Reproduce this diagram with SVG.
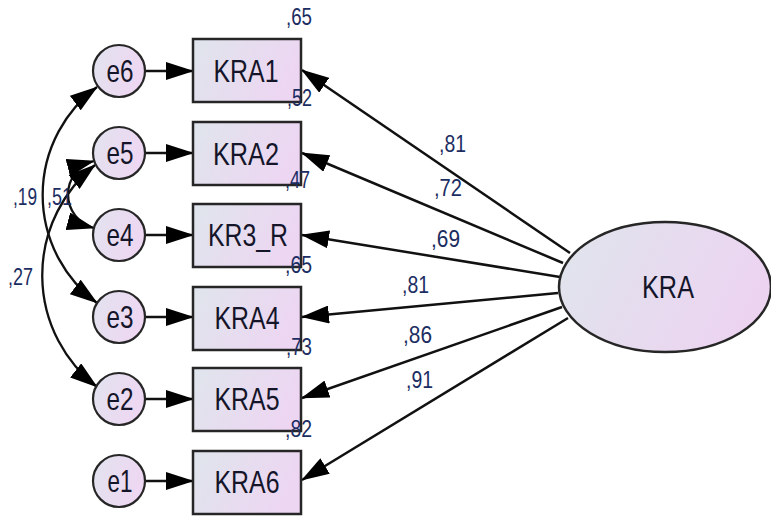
<svg xmlns="http://www.w3.org/2000/svg" width="771" height="517" viewBox="0 0 771 517">
<style>
.box{stroke:#262626;stroke-width:2.5;fill:url(#gb)}
.err{stroke:#262626;stroke-width:2.2;fill:url(#ge)}
.lat{stroke:#262626;stroke-width:2.5;fill:url(#gl)}
.ln{stroke:#111;stroke-width:2.5;fill:none;marker-end:url(#ah)}
.cv{stroke:#111;stroke-width:2.3;fill:none;marker-start:url(#ah);marker-end:url(#ah)}
.lbl{font-family:"Liberation Sans",Arial,sans-serif;font-size:32px;fill:#15152a;text-anchor:middle}
.num{font-family:"Liberation Sans",Arial,sans-serif;font-size:23px;fill:#1c2d62}
</style>
<defs>
<linearGradient id="gb" x1="0" y1="0" x2="1" y2="0.3"><stop offset="0" stop-color="#dfe5ec"/><stop offset="1" stop-color="#edd6f2"/></linearGradient>
<linearGradient id="ge" x1="0" y1="0" x2="1" y2="0.3"><stop offset="0" stop-color="#e2e3ef"/><stop offset="1" stop-color="#eed7f2"/></linearGradient>
<linearGradient id="gl" x1="0" y1="0" x2="1" y2="0.3"><stop offset="0" stop-color="#dfe5ec"/><stop offset="1" stop-color="#ecd4f1"/></linearGradient>
<marker id="ah" markerUnits="userSpaceOnUse" viewBox="0 0 28 18" markerWidth="28" markerHeight="18" refX="27" refY="9" orient="auto-start-reverse"><path d="M0,0 L28,9 L0,18 z" fill="#000"/></marker>
</defs>
<g id="connectors">
<path class="ln" d="M570,253 L302,70"/>
<path class="ln" d="M563,263 L302,153"/>
<path class="ln" d="M560,277 L302,235"/>
<path class="ln" d="M558,293 L302,317"/>
<path class="ln" d="M562,307 L302,398"/>
<path class="ln" d="M568,318 L302,480"/>
<path class="ln" d="M145,71 L193,71"/>
<path class="ln" d="M145,153 L193,153"/>
<path class="ln" d="M145,235 L193,235"/>
<path class="ln" d="M145,317 L193,317"/>
<path class="ln" d="M145,399 L193,399"/>
<path class="ln" d="M145,481 L193,481"/>
<path class="cv" d="M97,87 A134.5,134.5 0 0 0 97,303"/>
<path class="cv" d="M94,161 A34.6,34.6 0 0 0 94,228"/>
<path class="cv" d="M95,165 A141.5,141.5 0 0 0 97,387"/>
</g>
<g id="KRA"><ellipse class="lat" cx="665" cy="287" rx="106" ry="65"/><text class="lbl" x="668" y="298" font-size="35" textLength="52" lengthAdjust="spacingAndGlyphs">KRA</text></g>
<g id="KRA1"><rect class="box" x="193" y="39" width="108" height="63"/><text class="lbl" x="246" y="82" textLength="65" lengthAdjust="spacingAndGlyphs">KRA1</text></g>
<g id="KRA2"><rect class="box" x="193" y="122" width="108" height="63"/><text class="lbl" x="246" y="165" textLength="66" lengthAdjust="spacingAndGlyphs">KRA2</text></g>
<g id="KR3_R"><rect class="box" x="193" y="204" width="108" height="63"/><text class="lbl" x="248" y="246" textLength="80" lengthAdjust="spacingAndGlyphs">KR3_R</text></g>
<g id="KRA4"><rect class="box" x="193" y="287" width="108" height="63"/><text class="lbl" x="247" y="329" textLength="65" lengthAdjust="spacingAndGlyphs">KRA4</text></g>
<g id="KRA5"><rect class="box" x="193" y="368" width="108" height="63"/><text class="lbl" x="247" y="410" textLength="65" lengthAdjust="spacingAndGlyphs">KRA5</text></g>
<g id="KRA6"><rect class="box" x="193" y="451" width="108" height="63"/><text class="lbl" x="247" y="493" textLength="65" lengthAdjust="spacingAndGlyphs">KRA6</text></g>
<g id="e6"><circle class="err" cx="119" cy="71" r="26"/><text class="lbl" x="120" y="82" textLength="27" lengthAdjust="spacingAndGlyphs">e6</text></g>
<g id="e5"><circle class="err" cx="119" cy="153" r="26"/><text class="lbl" x="120" y="164" textLength="27" lengthAdjust="spacingAndGlyphs">e5</text></g>
<g id="e4"><circle class="err" cx="119" cy="235" r="26"/><text class="lbl" x="120" y="246" textLength="27" lengthAdjust="spacingAndGlyphs">e4</text></g>
<g id="e3"><circle class="err" cx="119" cy="317" r="26"/><text class="lbl" x="120" y="328" textLength="27" lengthAdjust="spacingAndGlyphs">e3</text></g>
<g id="e2"><circle class="err" cx="119" cy="399" r="26"/><text class="lbl" x="120" y="410" textLength="27" lengthAdjust="spacingAndGlyphs">e2</text></g>
<g id="e1"><circle class="err" cx="119" cy="481" r="26"/><text class="lbl" x="120" y="492" textLength="25" lengthAdjust="spacingAndGlyphs">e1</text></g>
<g id="labels">
<text class="num" x="286" y="25" textLength="26" lengthAdjust="spacingAndGlyphs">,65</text>
<text class="num" x="287" y="106" textLength="25" lengthAdjust="spacingAndGlyphs">,52</text>
<text class="num" x="285" y="188" textLength="25" lengthAdjust="spacingAndGlyphs">,47</text>
<text class="num" x="285" y="273" textLength="27" lengthAdjust="spacingAndGlyphs">,65</text>
<text class="num" x="286" y="355" textLength="26" lengthAdjust="spacingAndGlyphs">,73</text>
<text class="num" x="285" y="437" textLength="27" lengthAdjust="spacingAndGlyphs">,82</text>
<text class="num" x="439" y="152" textLength="27" lengthAdjust="spacingAndGlyphs">,81</text>
<text class="num" x="434" y="196" textLength="28" lengthAdjust="spacingAndGlyphs">,72</text>
<text class="num" x="431" y="247" textLength="29" lengthAdjust="spacingAndGlyphs">,69</text>
<text class="num" x="402" y="293" textLength="27" lengthAdjust="spacingAndGlyphs">,81</text>
<text class="num" x="403" y="343" textLength="29" lengthAdjust="spacingAndGlyphs">,86</text>
<text class="num" x="406" y="388" textLength="27" lengthAdjust="spacingAndGlyphs">,91</text>
<text class="num" x="13" y="205" textLength="24" lengthAdjust="spacingAndGlyphs">,19</text>
<text class="num" x="47" y="205" textLength="25" lengthAdjust="spacingAndGlyphs">,51</text>
<text class="num" x="8" y="285" textLength="25" lengthAdjust="spacingAndGlyphs">,27</text>
</g>
</svg>
